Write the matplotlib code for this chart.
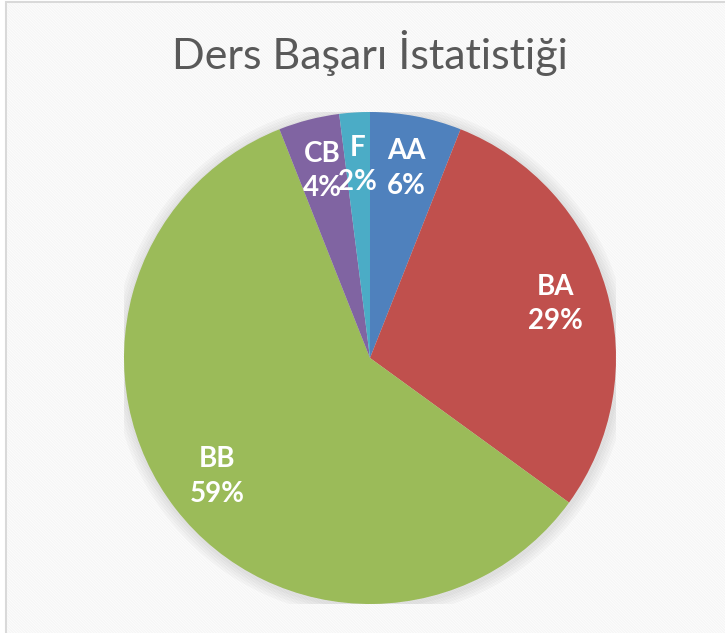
import matplotlib
matplotlib.use('Agg')
import matplotlib.pyplot as plt
from matplotlib.patches import Rectangle, Circle
import numpy as np

# grade distribution (% of students)
grades = ['AA', 'BA', 'BB', 'CB', 'F']
shares = [6, 29, 59, 4, 2]
colors = ['#4F81BD', '#C0504D', '#9BBB59', '#8064A2', '#4BACC6']
title = 'Ders Başarı İstatistiği'

plt.rcParams['hatch.linewidth'] = 1.0

W, H = 725, 633
fig = plt.figure(figsize=(W / 100, H / 100), dpi=100)
fig.patch.set_facecolor('white')

# hatched chart-area background + border
bg = Rectangle((6 / W, -0.01), 1.02, 1 - 2 / H + 0.01, transform=fig.transFigure,
               facecolor='white', edgecolor='#d9d9d9', linewidth=1.5, zorder=-2)
fig.patches.append(bg)
hatch = Rectangle((7 / W, -0.01), 1.02, 1 - 3 / H + 0.01, transform=fig.transFigure,
                  facecolor='none', edgecolor='#f6f6f6', linewidth=0,
                  hatch='\\' * 12, zorder=-1)
fig.patches.append(hatch)

cx, cy, r = 370, 358, 246
ax = fig.add_axes([(cx - r) / W, (H - cy - r) / H, 2 * r / W, 2 * r / H])
ax.set_facecolor('none')
ax.set_zorder(1)

# soft shadow under the pie
for i in range(4):
    ax.add_patch(Circle((0.004, -0.006), 1.0 + 0.012 * (i + 1), color='#808080',
                        alpha=0.05, linewidth=0, zorder=0))

wedges, _ = ax.pie(shares, colors=colors, startangle=90, counterclock=False,
                   radius=1.0, wedgeprops=dict(linewidth=0))
for w in wedges:
    w.set_zorder(2)

total = sum(shares)
for w, name, v in zip(wedges, grades, shares):
    mid = np.deg2rad((w.theta1 + w.theta2) / 2)
    x, y = 0.785 * np.cos(mid), 0.785 * np.sin(mid)
    ax.text(x, y, f'{name}\n{round(100 * v / total)}%', ha='center', va='center',
            color='white', fontsize=20, fontweight='bold', family='Lato',
            linespacing=1.4, zorder=3)

ax.set_xlim(-1, 1)
ax.set_ylim(-1, 1)
ax.set_aspect('equal')
ax.axis('off')

fig.text(370 / W, 1 - 53 / H, title, ha='center', va='center', fontsize=31,
         color='#595959', family='Lato', zorder=2)

fig.savefig('out.png', dpi=100)
